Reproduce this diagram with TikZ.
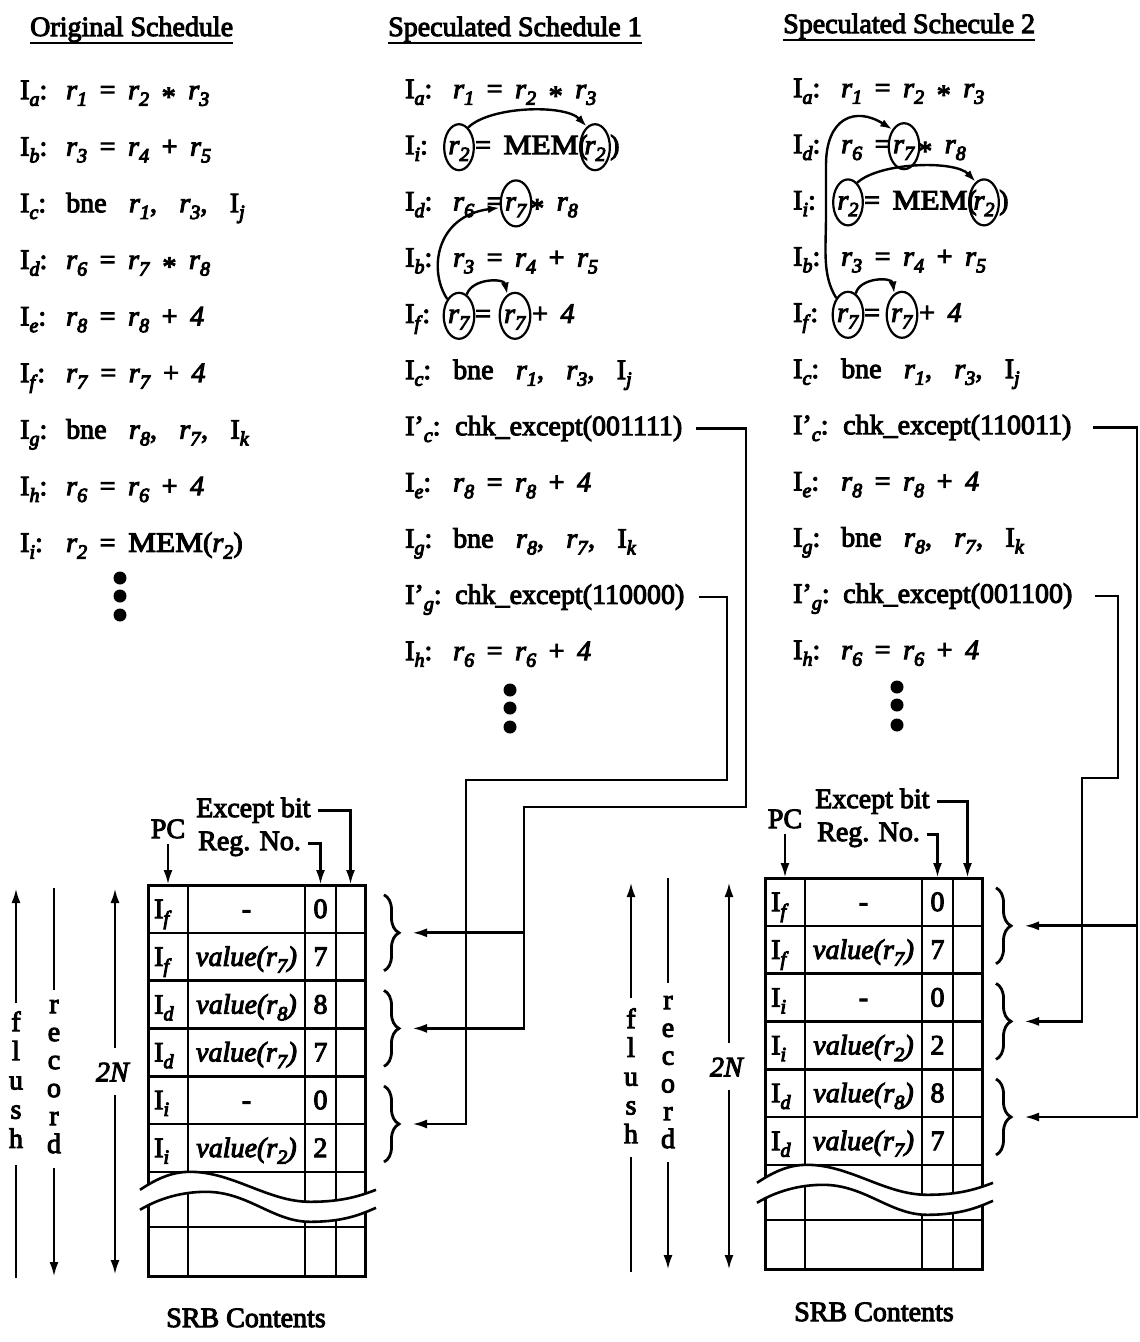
\documentclass[tikz,border=0pt]{standalone}
\usepackage{fontspec}
\setmainfont{Liberation Serif}
\usetikzlibrary{arrows.meta,shapes.geometric,decorations.pathreplacing,calc}
\newcommand\heavy{\special{pdf:code 2 Tr 1.0 w}}
\newcommand\sub[1]{\raisebox{-0.24em}{\fontsize{20}{20}\selectfont\textit{#1}}}
\newcommand\rg[1]{\textit{r}\sub{#1}}
\newcommand\lab[1]{I\sub{#1}:}
\newcommand\labp[1]{I'\sub{#1}:}
\newcommand\G{\hspace{0.45em}}
\newcommand\GG{\hspace{0.8em}}
\newcommand\st{\raisebox{-0.25em}{*}}
\newcommand\val[1]{\textit{value(r}\sub{#1}\textit{)}}
\newcommand\Isub[1]{I\sub{#1}}
\newcommand\MEM{\scalebox{1.12}[1]{MEM}(}
\begin{document}
\begin{tikzpicture}[x=1pt,y=-1pt,font=\heavy\fontsize{28}{34}\selectfont,
  every node/.style={inner sep=0pt},
  lbl/.style={anchor=base west},
  regc/.style={ellipse,draw,line width=2.2pt,minimum width=27pt,minimum height=46pt,inner sep=0pt,text height=19pt,text depth=5pt},
  arc/.style={line width=2.4pt,-{Latex[length=12pt,width=8pt]}},
  conn/.style={line width=2.8pt},
  arr/.style={line width=2.8pt,-{Latex[length=15pt,width=9pt]}},
  tbl/.style={line width=2.6pt},
  brc/.style={line width=2.8pt,decorate,decoration={brace,amplitude=15pt}},
  dotn/.style={circle,fill,minimum size=13pt},
  uline/.style={line width=2.5pt}]
\fill[white] (0,0) rectangle (1140,1342);
\useasboundingbox (0,0) rectangle (1140,1342);

% ---------- titles
\node[lbl] (T1) at (30,36) {Original Schedule};
\node[lbl] (T2) at (388,36) {Speculated Schedule 1};
\node[lbl] (T3) at (783,33) {Speculated Schecule 2};
\foreach \t in {T1,T2,T3}
  \draw[uline] ([yshift=-7pt]\t.base west) -- ([yshift=-7pt]\t.base east);

% ---------- original schedule
\node[lbl] (La) at (20,99) {\lab{a}};
\node[lbl] (Lac) at (66,99) {\rg{1}\G=\G\rg{2}\G\st\G\rg{3}};
\node[lbl] (Lb) at (20,155.6) {\lab{b}};
\node[lbl] (Lbc) at (66,155.6) {\rg{3}\G=\G\rg{4}\G+\G\rg{5}};
\node[lbl] (Lc) at (20,212.2) {\lab{c}};
\node[lbl] (Lcc) at (66,212.2) {bne\GG\rg{1},\GG\rg{3},\GG\Isub{j}};
\node[lbl] (Ld) at (20,268.8) {\lab{d}};
\node[lbl] (Ldc) at (66,268.8) {\rg{6}\G=\G\rg{7}\G\st\G\rg{8}};
\node[lbl] (Le) at (20,325.4) {\lab{e}};
\node[lbl] (Lec) at (66,325.4) {\rg{8}\G=\G\rg{8}\G+\G\textit{4}};
\node[lbl] (Lf) at (20,382) {\lab{f}};
\node[lbl] (Lfc) at (66,382) {\rg{7}\G=\G\rg{7}\G+\G\textit{4}};
\node[lbl] (Lg) at (20,438.6) {\lab{g}};
\node[lbl] (Lgc) at (66,438.6) {bne\GG\rg{8},\GG\rg{7},\GG\Isub{k}};
\node[lbl] (Lh) at (20,495.2) {\lab{h}};
\node[lbl] (Lhc) at (66,495.2) {\rg{6}\G=\G\rg{6}\G+\G\textit{4}};
\node[lbl] (Li) at (20,551.8) {\lab{i}};
\node[lbl] (Lic) at (66,551.8) {\rg{2}\G=\G\MEM\rg{2})};
\node[dotn] (Ld1) at (120,578) {};
\node[dotn] (Ld2) at (120,596) {};
\node[dotn] (Ld3) at (120,615) {};

% ---------- speculated schedule 1
\node[lbl] (Ma) at (405,98) {\lab{a}};
\node[lbl] (Mac) at (453,98) {\rg{1}\G=\G\rg{2}\G\st\G\rg{3}};
\node[lbl] (Mi) at (405,154.2) {\lab{i}};
\node[regc] (mi1) at (459,147.2) {\rg{2}};
\node[lbl] (Mieq) at (475,154.2) {=\G\MEM};
\node[regc] (mi2) at ($(Mieq.base east)+(7,-7)$) {\rg{2}};
\node[lbl] (Mirp) at ($(mi2.east |- Mieq.base)+(-1,0)$) {)};
\node[lbl] (Md) at (405,210.4) {\lab{d}};
\node[lbl] (Mdc) at (453,210.4) {\rg{6}\G=};
\node[regc] (md) at (516,203.4) {\rg{7}};
\node[lbl] (Mdc2) at (530,210.4) {\st\G\rg{8}};
\node[lbl] (Mb) at (405,266.6) {\lab{b}};
\node[lbl] (Mbc) at (453,266.6) {\rg{3}\G=\G\rg{4}\G+\G\rg{5}};
\node[lbl] (Mf) at (405,322.8) {\lab{f}};
\node[regc] (mf1) at (459,315.8) {\rg{7}};
\node[lbl] (Mfeq) at (475,322.8) {=};
\node[regc] (mf2) at (515,315.8) {\rg{7}};
\node[lbl] (Mfc) at (532,322.8) {+\G\textit{4}};
\node[lbl] (Mc) at (405,379) {\lab{c}};
\node[lbl] (Mcc) at (453,379) {bne\GG\rg{1},\GG\rg{3},\GG\Isub{j}};
\node[lbl] (Mcp) at (405,435.2) {\labp{c}};
\node[lbl] (Mcpc) at (455,435.2) {chk\_except(001111)};
\node[lbl] (Me) at (405,491.4) {\lab{e}};
\node[lbl] (Mec) at (453,491.4) {\rg{8}\G=\G\rg{8}\G+\G\textit{4}};
\node[lbl] (Mg) at (405,547.6) {\lab{g}};
\node[lbl] (Mgc) at (453,547.6) {bne\GG\rg{8},\GG\rg{7},\GG\Isub{k}};
\node[lbl] (Mgp) at (405,603.8) {\labp{g}};
\node[lbl] (Mgpc) at (455,603.8) {chk\_except(110000)};
\node[lbl] (Mh) at (405,660) {\lab{h}};
\node[lbl] (Mhc) at (453,660) {\rg{6}\G=\G\rg{6}\G+\G\textit{4}};
\node[dotn] (Md1) at (510,690) {};
\node[dotn] (Md2) at (510,708) {};
\node[dotn] (Md3) at (510,727) {};
\draw[arc] (mi1.65) .. controls (490,106) and (565,104) .. (mi2.112);
\draw[arc] (mf1.125) .. controls (428,270) and (436,216) .. (md.195);
\draw[arc] (mf1.70) .. controls (472,278) and (504,278) .. (mf2.110);

% ---------- speculated schedule 2
\node[lbl] (Ra) at (793,97) {\lab{a}};
\node[lbl] (Rac) at (841,97) {\rg{1}\G=\G\rg{2}\G\st\G\rg{3}};
\node[lbl] (Rd) at (793,153.2) {\lab{d}};
\node[lbl] (Rdc) at (841,153.2) {\rg{6}\G=};
\node[regc] (rd) at (904,146.2) {\rg{7}};
\node[lbl] (Rdc2) at (918,153.2) {\st\G\rg{8}};
\node[lbl] (Ri) at (793,209.4) {\lab{i}};
\node[regc] (ri1) at (848,202.4) {\rg{2}};
\node[lbl] (Rieq) at (864,209.4) {=\G\MEM};
\node[regc] (ri2) at ($(Rieq.base east)+(7,-7)$) {\rg{2}};
\node[lbl] (Rirp) at ($(ri2.east |- Rieq.base)+(-1,0)$) {)};
\node[lbl] (Rb) at (793,265.6) {\lab{b}};
\node[lbl] (Rbc) at (841,265.6) {\rg{3}\G=\G\rg{4}\G+\G\rg{5}};
\node[lbl] (Rf) at (793,321.8) {\lab{f}};
\node[regc] (rf1) at (848,314.8) {\rg{7}};
\node[lbl] (Rfeq) at (864,321.8) {=};
\node[regc] (rf2) at (902,314.8) {\rg{7}};
\node[lbl] (Rfc) at (919,321.8) {+\G\textit{4}};
\node[lbl] (Rc) at (793,378) {\lab{c}};
\node[lbl] (Rcc) at (841,378) {bne\GG\rg{1},\GG\rg{3},\GG\Isub{j}};
\node[lbl] (Rcp) at (793,434.2) {\labp{c}};
\node[lbl] (Rcpc) at (843,434.2) {chk\_except(110011)};
\node[lbl] (Re) at (793,490.4) {\lab{e}};
\node[lbl] (Rec) at (841,490.4) {\rg{8}\G=\G\rg{8}\G+\G\textit{4}};
\node[lbl] (Rg) at (793,546.6) {\lab{g}};
\node[lbl] (Rgc) at (841,546.6) {bne\GG\rg{8},\GG\rg{7},\GG\Isub{k}};
\node[lbl] (Rgp) at (793,602.8) {\labp{g}};
\node[lbl] (Rgpc) at (843,602.8) {chk\_except(001100)};
\node[lbl] (Rh) at (793,659) {\lab{h}};
\node[lbl] (Rhc) at (841,659) {\rg{6}\G=\G\rg{6}\G+\G\textit{4}};
\node[dotn] (Rd1) at (897,687) {};
\node[dotn] (Rd2) at (897,705) {};
\node[dotn] (Rd3) at (897,725) {};
\draw[arc] (rf1.125) .. controls (822,275) and (826,250) .. (826,215) -- (826,165) .. controls (826,118) and (855,106) .. (rd.125);
\draw[arc] (ri1.65) .. controls (880,162) and (955,160) .. (ri2.112);
\draw[arc] (rf1.70) .. controls (860,277) and (892,277) .. (rf2.110);

% ---------- SRB tables
\def\R{286.8}
\newcommand\srbtable[3]{%
  \begin{scope}[shift={(#1,#2)}]
    \draw[tbl] (40,0) -- (40,391);
    \draw[tbl] (157,0) -- (157,391);
    \draw[tbl] (188,0) -- (188,391);
    \foreach \k in {1,...,6} \draw[tbl] (0,47.8*\k) -- (217,47.8*\k);
    \draw[tbl] (0,342) -- (217,342);
    \draw[line width=3pt] (0,0) rectangle (217,391);
    \fill[white] (-8,\R+18) .. controls (10,\R+6) and (25,\R) .. (42,\R) .. controls (85,\R) and (120,\R+30) .. (162,\R+30) .. controls (195,\R+30) and (212,\R+24) .. (228,\R+18)
      -- (228,\R+36) .. controls (212,\R+43) and (195,\R+50) .. (162,\R+50) .. controls (125,\R+50) and (100,\R+20) .. (58,\R+20) .. controls (35,\R+20) and (12,\R+26) .. (-8,\R+38) -- cycle;
    \draw[tbl] (-8,\R+18) .. controls (10,\R+6) and (25,\R) .. (42,\R) .. controls (85,\R) and (120,\R+30) .. (162,\R+30) .. controls (195,\R+30) and (212,\R+24) .. (228,\R+18);
    \draw[tbl] (-8,\R+38) .. controls (12,\R+26) and (35,\R+20) .. (58,\R+20) .. controls (100,\R+20) and (125,\R+50) .. (162,\R+50) .. controls (195,\R+50) and (212,\R+43) .. (228,\R+36);
    \foreach \r/\s/\v/\n in {#3} {
      \node[lbl] (#1cI\r) at (6,47.8*\r-14.8) {\Isub{\s}};
      \node[anchor=base] (#1cV\r) at (98.5,47.8*\r-14.8) {\v};
      \node[anchor=base] (#1cN\r) at (172.5,47.8*\r-14.8) {\n};
    }
  \end{scope}}
\srbtable{148}{885}{1/f/-/0,2/f/\val{7}/7,3/d/\val{8}/8,4/d/\val{7}/7,5/i/-/0,6/i/\val{2}/2}
\srbtable{765}{878}{1/f/-/0,2/f/\val{7}/7,3/i/-/0,4/i/\val{2}/2,5/d/\val{8}/8,6/d/\val{7}/7}

% ---------- headers over tables
\node[anchor=base] (LPC) at (168,838) {PC};
\node[lbl] (LEx) at (196,817) {Except bit};
\node[lbl] (LRg) at (198,850) {Reg. No.};
\coordinate (LtPC) at (168,885);
\coordinate (LtRg) at (320.5,885);
\coordinate (LtEx) at (350.5,885);
\draw[arr] ([yshift=-6pt]LPC.south) -- (LtPC);
\draw[arr] ([xshift=7pt]LEx.east) -| (LtEx);
\draw[arr] ([xshift=7pt]LRg.east) -| (LtRg);

\node[anchor=base] (RPC) at (785,828) {PC};
\node[lbl] (REx) at (815,808) {Except bit};
\node[lbl] (RRg) at (817,841) {Reg. No.};
\coordinate (RtPC) at (785,878);
\coordinate (RtRg) at (937.5,878);
\coordinate (RtEx) at (967.5,878);
\draw[arr] ([yshift=-6pt]RPC.south) -- (RtPC);
\draw[arr] ([xshift=7pt]REx.east) -| (RtEx);
\draw[arr] ([xshift=7pt]RRg.east) -| (RtRg);

% ---------- flush / record / 2N
\foreach \c [count=\j] in {f,l,u,s,h}
  \node[anchor=base] (Lfl\j) at (16,{1031+29.2*(\j-1)}) {\c};
\foreach \c [count=\j] in {r,e,c,o,r,d}
  \node[anchor=base] (Lrc\j) at (54,{1013+28*(\j-1)}) {\c};
\draw[arr] (16,1003) -- (16,888);
\draw[conn] (16,1165) -- (16,1278);
\draw[conn] (54,888) -- (54,990);
\draw[arr] (54,1168) -- (54,1277);
\node (L2N) at (113,1072) {\textit{2N}};
\draw[arr] (115,1048) -- (115,888);
\draw[arr] (115,1095) -- (115,1275);

\foreach \c [count=\j] in {f,l,u,s,h}
  \node[anchor=base] (Rfl\j) at (631,{1028+28.8*(\j-1)}) {\c};
\foreach \c [count=\j] in {r,e,c,o,r,d}
  \node[anchor=base] (Rrc\j) at (668,{1009+27.8*(\j-1)}) {\c};
\draw[arr] (631,998) -- (631,882);
\draw[conn] (631,1157) -- (631,1272);
\draw[conn] (668,878) -- (668,983);
\draw[arr] (668,1162) -- (668,1270);
\node (R2N) at (727,1067) {\textit{2N}};
\draw[arr] (729,1043) -- (729,882);
\draw[arr] (729,1090) -- (729,1270);

% ---------- braces
\draw[brc] (384,894.8) -- (384,970.8);
\draw[brc] (384,990.4) -- (384,1066.4);
\draw[brc] (384,1086) -- (384,1162);
\draw[brc] (996,887.8) -- (996,963.8);
\draw[brc] (996,983.4) -- (996,1059.4);
\draw[brc] (996,1079) -- (996,1155);
\coordinate (LB1) at (412,932.8);
\coordinate (LB2) at (412,1028.4);
\coordinate (LB3) at (412,1124);
\coordinate (RB1) at (1024,925.8);
\coordinate (RB2) at (1024,1021.4);
\coordinate (RB3) at (1024,1117);

% ---------- check connectors
\coordinate (A0) at ($(Mcpc.east)+(14,0)$);
\coordinate (B0) at ($(Mgpc.east)+(14,0)$);
\coordinate (C0) at ($(Rcpc.east)+(22,0)$);
\coordinate (D0) at ($(Rgpc.east)+(22,0)$);
\draw[arr] (A0) -| (746,807) -- (524,807) |- (LB2);
\draw[arr] (524,932.8) -- (LB1);
\draw[arr] (B0) -| (727,780) -- (466,780) |- (LB3);
\draw[arr] (C0) -| (1137,1117) -- (RB3);
\draw[arr] (1137,925.8) -- (RB1);
\draw[arr] (D0) -| (1118,778) -- (1082,778) |- (RB2);

% ---------- captions
\node[anchor=base] (Lsrb) at (246,1327) {SRB Contents};
\node[anchor=base] (Rsrb) at (874,1321) {SRB Contents};
\end{tikzpicture}
\end{document}
